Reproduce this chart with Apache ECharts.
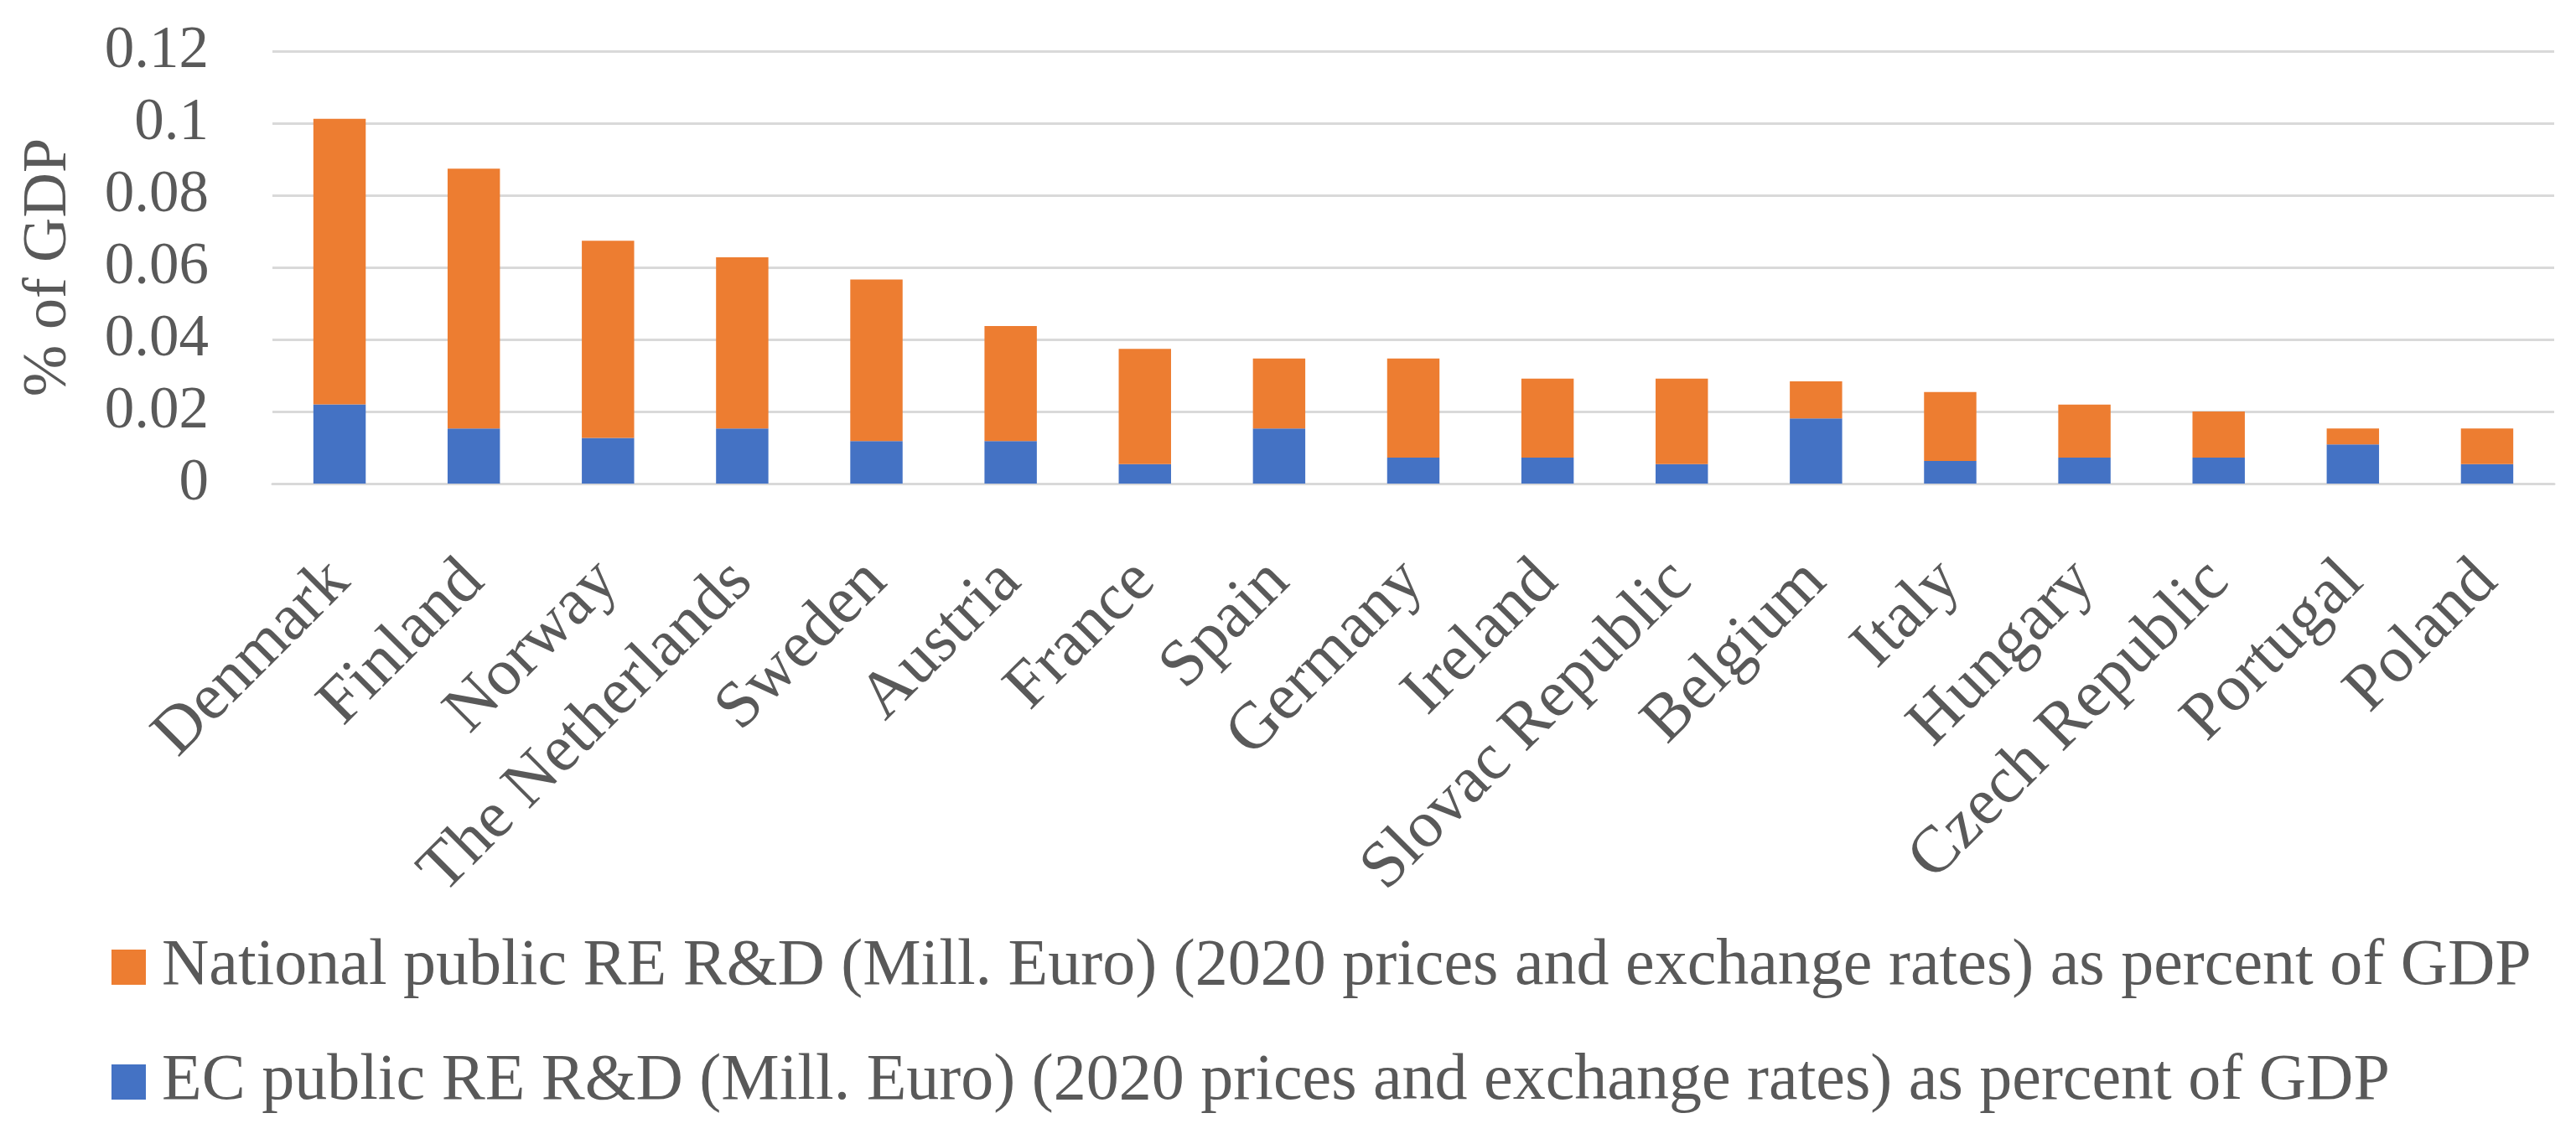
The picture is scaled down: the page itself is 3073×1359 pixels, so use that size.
<!DOCTYPE html>
<html>
<head>
<meta charset="utf-8">
<script src="https://cdn.jsdelivr.net/npm/echarts@6/dist/echarts.min.js"></script>
<style>
html,body{margin:0;padding:0;background:#fff;}
#chart{width:3073px;height:1359px;}
</style>
</head>
<body>
<div id="chart"></div>
<script>
var categories = ['Denmark','Finland','Norway','The Netherlands','Sweden','Austria','France','Spain','Germany','Ireland','Slovac Republic','Belgium','Italy','Hungary','Czech Republic','Portugal','Poland'];
var ecValues = [0.022,0.0153,0.0127,0.0153,0.0118,0.0118,0.0054,0.0153,0.0072,0.0072,0.0054,0.0181,0.0063,0.0072,0.0072,0.0109,0.0054];
var nationalValues = [0.0792,0.0721,0.0547,0.0475,0.0448,0.0319,0.0320,0.0194,0.0275,0.0219,0.0237,0.0103,0.0191,0.0147,0.0128,0.0044,0.0099];
var nationalName = 'National public RE R&D (Mill. Euro) (2020 prices and exchange rates) as percent of GDP';
var ecName = 'EC public RE R&D (Mill. Euro) (2020 prices and exchange rates) as percent of GDP';
var yMin = 0, yMax = 0.12, yStep = 0.02;

var FONT = '"Liberation Serif", "Times New Roman", serif';
var TXT = '#595959';
var chart = echarts.init(document.getElementById('chart'));
chart.setOption({
  backgroundColor: '#ffffff',
  animation: false,
  textStyle: { fontFamily: FONT, color: TXT },
  grid: { left: 325, right: 26, top: 61, bottom: 782, containLabel: false },
  legend: [
    {
      data: [nationalName], left: 133, top: 1115, padding: 0,
      itemWidth: 41, itemHeight: 42, icon: 'rect',
      textStyle: { fontFamily: FONT, fontSize: 78, color: TXT, padding: [0, 0, 0, 14] }
    },
    {
      data: [ecName], left: 133, top: 1252, padding: 0,
      itemWidth: 41, itemHeight: 42, icon: 'rect',
      textStyle: { fontFamily: FONT, fontSize: 78, color: TXT, padding: [0, 0, 0, 14] }
    }
  ],
  xAxis: {
    type: 'category',
    data: categories,
    axisLine: { show: true, lineStyle: { color: '#D9D9D9', width: 3 } },
    axisTick: { show: false },
    axisLabel: { rotate: 45, interval: 0, margin: 105, fontFamily: FONT, fontSize: 79, color: TXT }
  },
  yAxis: {
    type: 'value',
    min: yMin, max: yMax, interval: yStep,
    name: '% of GDP',
    nameLocation: 'middle',
    nameGap: 229,
    nameRotate: 90,
    nameTextStyle: { fontFamily: FONT, fontSize: 74, color: TXT },
    axisLine: { show: false },
    axisTick: { show: false },
    axisLabel: { margin: 76, fontFamily: FONT, fontSize: 71, color: TXT },
    splitLine: { show: true, lineStyle: { color: '#D9D9D9', width: 3 } }
  },
  series: [
    {
      name: ecName, type: 'bar', stack: 'total', data: ecValues,
      barCategoryGap: '61%',
      itemStyle: { color: '#4472C4' }
    },
    {
      name: nationalName, type: 'bar', stack: 'total', data: nationalValues,
      barCategoryGap: '61%',
      itemStyle: { color: '#ED7D31' }
    }
  ]
});
</script>
</body>
</html>
